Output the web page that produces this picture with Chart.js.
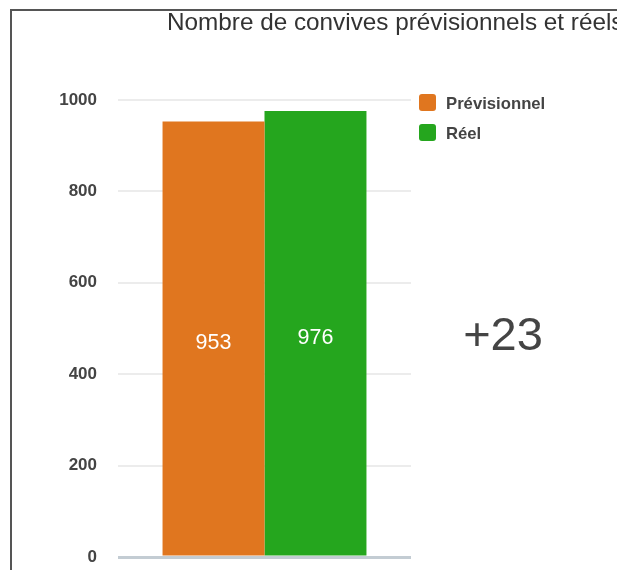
<!DOCTYPE html>
<html lang="fr">
<head>
<meta charset="utf-8">
<title>Convives</title>
<script src="https://cdn.jsdelivr.net/npm/chart.js@4/dist/chart.umd.min.js"></script>
<style>
    html, body {
        margin: 0;
        padding: 0;
        background: #ffffff;
        overflow: hidden;
    }

    #chart {
        display: block;
    }
</style>
</head>
<body>
<canvas id="chart" width="617" height="570"></canvas>
<script>
// Data
const categories = ['Convives']
const seriesNames = ['Prévisionnel', 'Réel']
const forecastValues = [953]
const actualValues = [976]
const seriesColors = ['#e0761f', '#25a61e']
const yMin = 0
const yMax = 1000
const yStep = 200

const chartTitle = 'Nombre de convives prévisionnels et réels'
const fontFamily = "'Liberation Sans', Arial, sans-serif"

/**
 * Draws the frame, title, legend, bar values and the difference between both series.
 */
const decorations = {
    id: 'decorations',

    beforeDraw(chart) {
        const ctx = chart.ctx
        ctx.save()
        ctx.strokeStyle = '#555555'
        ctx.lineWidth = 2
        ctx.strokeRect(11, 10, 800, 800)

        ctx.fillStyle = '#333333'
        ctx.font = `24.3px ${fontFamily}`
        ctx.textAlign = 'left'
        ctx.textBaseline = 'alphabetic'
        ctx.fillText(chartTitle, 167, 30)
        ctx.restore()
    },

    afterDatasetsDraw(chart) {
        const ctx = chart.ctx
        ctx.save()
        ctx.fillStyle = '#ffffff'
        ctx.font = `21.5px ${fontFamily}`
        ctx.textAlign = 'center'
        ctx.textBaseline = 'middle'
        chart.data.datasets.forEach((dataset, i) => {
            const meta = chart.getDatasetMeta(i)
            meta.data.forEach((bar, j) => {
                const middle = (bar.y + bar.base) / 2
                ctx.fillText(String(dataset.data[j]), bar.x, middle + 5)
            })
        })
        ctx.restore()
    },

    afterDraw(chart) {
        const ctx = chart.ctx
        const area = chart.chartArea
        ctx.save()

        // Legend
        const legendX = area.right + 8
        chart.data.datasets.forEach((dataset, i) => {
            const top = 94 + i * 30
            ctx.fillStyle = dataset.backgroundColor
            ctx.beginPath()
            ctx.roundRect(legendX, top, 17, 17, 3)
            ctx.fill()

            ctx.fillStyle = '#444444'
            ctx.font = `bold 16.7px ${fontFamily}`
            ctx.textAlign = 'left'
            ctx.textBaseline = 'middle'
            ctx.fillText(dataset.label, legendX + 27, top + 10)
        })

        // Difference between actual and forecast
        const diff = actualValues[0] - forecastValues[0]
        ctx.fillStyle = '#444444'
        ctx.font = `47px ${fontFamily}`
        ctx.textAlign = 'center'
        ctx.textBaseline = 'middle'
        ctx.fillText((diff >= 0 ? '+' : '') + diff, 503, 337)

        ctx.restore()
    }
}

new Chart(document.querySelector('#chart'), {
    type: 'bar',
    data: {
        labels: categories,
        datasets: [
            {
                label: seriesNames[0],
                data: forecastValues,
                backgroundColor: seriesColors[0]
            },
            {
                label: seriesNames[1],
                data: actualValues,
                backgroundColor: seriesColors[1]
            }
        ]
    },
    options: {
        responsive: false,
        animation: false,
        layout: {
            padding: { left: 0, top: 100, right: 206, bottom: 13 }
        },
        datasets: {
            bar: {
                barPercentage: 1,
                categoryPercentage: 0.696,
                borderWidth: 0
            }
        },
        plugins: {
            legend: { display: false },
            title: { display: false },
            tooltip: { enabled: false }
        },
        scales: {
            x: {
                display: false
            },
            y: {
                min: yMin,
                max: yMax,
                afterFit(scale) {
                    // fixed axis width, and no extra room above/below for the end labels
                    scale.width = 118
                    scale.paddingTop = 0
                    scale.paddingBottom = 0
                },
                ticks: {
                    stepSize: yStep,
                    padding: 21,
                    color: '#444444',
                    font: { family: fontFamily, size: 17, weight: 'bold' },
                    callback: (value) => String(value)
                },
                border: { display: false },
                grid: {
                    drawTicks: false,
                    color: (ctx) => ctx.tick && ctx.tick.value === 0 ? '#c3ccd3' : '#ececec',
                    lineWidth: (ctx) => ctx.tick && ctx.tick.value === 0 ? 3 : 2
                }
            }
        }
    },
    plugins: [decorations]
})
</script>
</body>
</html>
